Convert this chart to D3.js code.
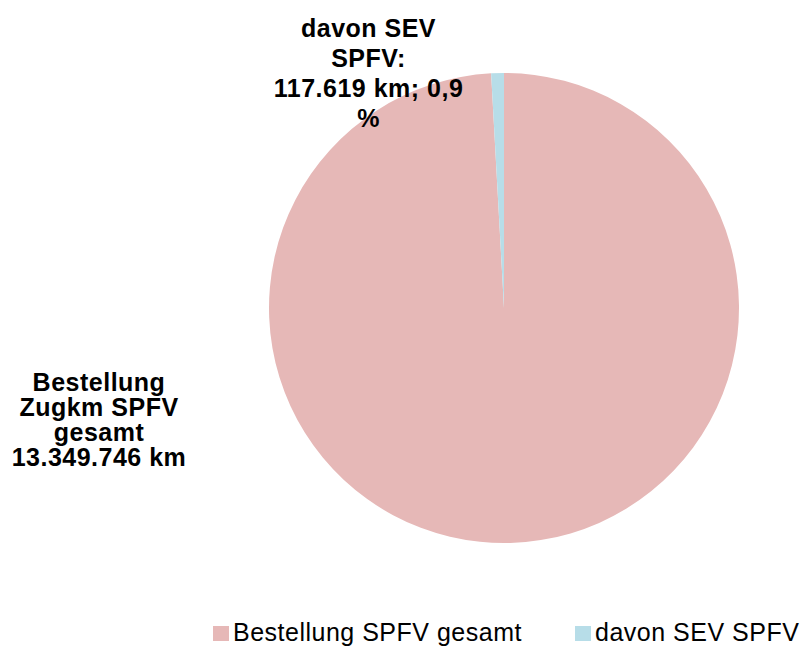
<!DOCTYPE html>
<html>
<head>
<meta charset="utf-8">
<script src="https://cdn.jsdelivr.net/npm/d3@7"></script>
<style>
  html, body { margin: 0; padding: 0; background: #fff; }
  svg { display: block; font-family: "Liberation Sans", Arial, sans-serif; }
</style>
</head>
<body>
<svg id="chart" width="805" height="646"></svg>
<script>
const categories = ["Bestellung SPFV gesamt", "davon SEV SPFV"];
const values = [13349746, 117619];
const colors = ["#E6B8B7", "#B7DDE8"];
const dataLabels = [
  ["Bestellung", "Zugkm SPFV", "gesamt", "13.349.746 km"],
  ["davon SEV", "SPFV:", "117.619 km; 0,9", "%"]
];

const svg = d3.select("#chart");
const cx = 504, cy = 308, r = 235;

const pie = d3.pie().sort(null).value(d => d)(values);
const arc = d3.arc().innerRadius(0).outerRadius(r);

const g = svg.append("g").attr("transform", `translate(${cx},${cy})`);
g.selectAll("path").data(pie).enter().append("path")
  .attr("d", arc)
  .attr("fill", (d, i) => colors[i]);

// data labels
const labelPos = [
  { x: 99, y: 390.7, dy: 25 },
  { x: 368.5, y: 36.5, dy: 30.3 }
];
dataLabels.forEach((lines, i) => {
  const t = svg.append("text")
    .attr("text-anchor", "middle")
    .attr("font-weight", "bold")
    .attr("font-size", 25)
    .attr("letter-spacing", 0.5)
    .attr("fill", "#000");
  lines.forEach((ln, j) => {
    t.append("tspan")
      .attr("x", labelPos[i].x)
      .attr("y", labelPos[i].y + j * labelPos[i].dy)
      .text(ln);
  });
});

// legend
const legendX = [213, 575];
categories.forEach((c, i) => {
  svg.append("rect")
    .attr("x", legendX[i]).attr("y", 626)
    .attr("width", 16).attr("height", 15)
    .attr("fill", colors[i]);
  svg.append("text")
    .attr("x", legendX[i] + 20).attr("y", 641)
    .attr("font-size", 25)
    .attr("letter-spacing", 0.5)
    .attr("fill", "#000")
    .text(c);
});
</script>
</body>
</html>
